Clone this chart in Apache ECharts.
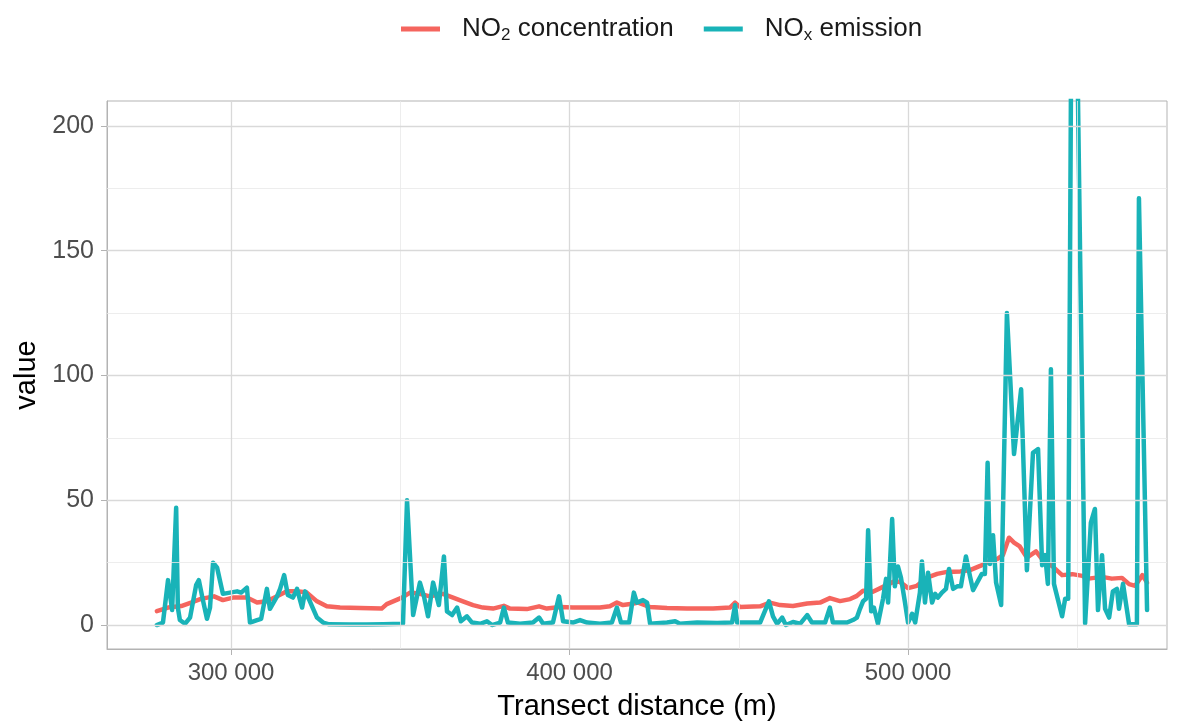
<!DOCTYPE html>
<html>
<head>
<meta charset="utf-8">
<script src="https://cdn.jsdelivr.net/npm/echarts@6/dist/echarts.min.js"></script>
<style>
  html, body { margin: 0; padding: 0; background: #ffffff; }
  #chart { width: 1184px; height: 726px; }
</style>
</head>
<body>
<div id="chart"></div>
<script>
// NO2 concentration along the transect (distance in m)
const no2Distance = [278100, 281400, 285300, 288200, 291100, 295000, 297600, 300600, 304700, 307700,
  310600, 313600, 316500, 319500, 322400, 325400, 328300, 332200, 338100, 344500,
  346000, 350500, 352900, 355800, 358800, 362600, 365600, 368500, 371500, 374400,
  377400, 380600, 382400, 387400, 391000, 393300, 397200, 401000, 409000, 411900,
  414000, 415800, 418500, 420300, 423800, 428800, 434700, 442400, 447400, 448900,
  450400, 456300, 459200, 462200, 466000, 470200, 474000, 476900, 479900, 482900,
  484900, 486700, 489600, 492600, 495600, 497600, 500000, 502600, 505600, 508600,
  511500, 515400, 518300, 521300, 524200, 526300, 528000, 529800, 531300, 533000,
  535100, 537800, 540400, 542500, 545500, 548500, 551500, 553300, 557300, 560200,
  563200, 565300, 567100, 569200, 570600];
const no2Values = [5.6, 7, 7.6, 9, 10.5, 11.5, 10, 11, 11, 9,
  9.5, 11.5, 13.5, 13.5, 13, 9.5, 7.5, 7, 6.8, 6.6,
  8.4, 11, 13, 12.5, 11.5, 12.5, 11, 9.5, 8, 7,
  6.6, 7.7, 6.6, 6.4, 7.5, 6.6, 7.2, 7, 7, 7.5,
  9, 8, 8.5, 9, 7.2, 6.8, 6.6, 6.6, 7, 9,
  7.2, 7.5, 9, 8, 7.6, 8.6, 9, 10.8, 9.6, 10.4,
  11.7, 13.7, 13.3, 15.3, 17.3, 17.3, 14.8, 15.7, 19, 20.5,
  21.3, 21.5, 22, 23.7, 25.7, 26.4, 28, 35, 33, 31.5,
  27, 29.5, 25, 23.7, 20, 20.4, 19.7, 18.6, 19.3, 18.6,
  18.9, 16.4, 15.7, 20, 17];

// NOx emission along the same transect
const noxDistance = [278100, 279900, 281400, 282600, 283800, 284300, 284900, 286400, 287900, 289700,
  290500, 291700, 292900, 293800, 294700, 295900, 297600, 299700, 301800, 303000,
  304700, 305600, 307700, 308900, 310600, 311500, 313600, 314500, 315700, 316800,
  318300, 319500, 321000, 321900, 323300, 325400, 327200, 329000, 335000, 340000,
  345000, 350800, 352000, 353800, 355800, 357000, 358200, 359700, 361400, 362900,
  363800, 365300, 366800, 367900, 369700, 371200, 373600, 375600, 377100, 379500,
  380600, 381800, 385400, 389200, 391000, 392200, 395100, 396900, 398100, 401000,
  403100, 405200, 409000, 412500, 414000, 415200, 417600, 419000, 419900, 421700,
  422900, 423800, 428800, 431200, 432600, 437700, 443600, 448000, 448900, 449500,
  452400, 456300, 458900, 460100, 461300, 462800, 463900, 466000, 468100, 470200,
  471600, 475500, 476900, 477800, 479900, 482000, 483700, 484900, 485800, 486700,
  487600, 488200, 489100, 489900, 491100, 492600, 493500, 494100, 495300, 496100,
  497000, 497900, 499100, 500000, 501200, 502100, 503500, 504100, 505000, 505900,
  507100, 508000, 508800, 510000, 511200, 512100, 513300, 514500, 515600, 517100,
  518300, 519200, 520400, 521800, 522700, 523500, 524200, 525100, 526000, 527500,
  529200, 531300, 533400, 535100, 536900, 538400, 539600, 540500, 541300, 542200,
  543100, 545500, 546400, 547300, 548700, 552300, 554000, 555200, 556100, 557300,
  558200, 559400, 560500, 561700, 562300, 563500, 565300, 567600, 568200, 570600];
const noxValues = [0, 1, 18, 6, 47, 7, 2, 0.5, 3, 16,
  18, 10, 2.5, 7, 25, 23, 12.5, 13, 13.5, 13,
  15, 1, 2, 2.5, 14.5, 6.5, 11.5, 14.5, 20, 12,
  11, 14.5, 7, 13.5, 9.5, 3, 1, 0.3, 0.2, 0.2,
  0.3, 0.5, 50, 4, 17, 11.5, 3.5, 17, 8, 27.5,
  5.5, 4, 7, 1.5, 3.5, 1, 0.5, 1.5, 0, 1,
  7, 1, 0.5, 1, 3, 0.5, 1, 11.5, 1.5, 1,
  2, 1, 0.5, 1, 7, 1, 1, 13, 9, 10,
  9, 0.5, 1, 1.5, 0.5, 1, 0.8, 1, 8, 1,
  1, 1, 9.5, 3.5, 0.5, 3, 0, 1.2, 0.5, 4,
  1, 1, 7, 1, 1, 1, 2, 3, 6.5, 9.5,
  10.5, 38, 5.5, 7, 0.5, 10.5, 18.5, 9, 42.5, 15.5,
  23.5, 19, 9, 1, 4.5, 1, 13, 25.5, 9, 21,
  9, 12.5, 11, 13, 14.5, 22.5, 14.5, 15.5, 15.5, 27.5,
  19.5, 14, 17, 20.5, 20.5, 65, 24.5, 36, 17, 8,
  125, 68.5, 94.5, 22, 69, 70.5, 24, 28, 16.5, 102.5,
  16.5, 3.5, 10.5, 10.5, 360, 0.7, 41, 46.5, 6, 28,
  6.5, 3, 13.5, 14.5, 6.5, 16.5, 0.3, 0.3, 171, 6];

// Axis breaks and reference lines
const xTicks = [300000, 400000, 500000];
const xMinor = [350000, 450000, 550000];
const yTicks = [0, 50, 100, 150, 200];
const yMinor = [25, 75, 125, 175];

const zip = (xs, ys) => xs.map((x, i) => [x, ys[i]]);
const FONT = '"Liberation Sans", Arial, Helvetica, sans-serif';
const RED = '#F5655E';
const TEAL = '#19B3B8';

const gridLines = [
  ...xMinor.map(v => ({ xAxis: v, lineStyle: { color: '#E8E8E8', width: 0.8, type: 'solid' } })),
  ...yMinor.map(v => ({ yAxis: v, lineStyle: { color: '#E8E8E8', width: 0.8, type: 'solid' } })),
  ...xTicks.map(v => ({ xAxis: v, lineStyle: { color: '#D9D9D9', width: 1.3, type: 'solid' } })),
  ...yTicks.map(v => ({ yAxis: v, lineStyle: { color: '#D9D9D9', width: 1.3, type: 'solid' } }))
];

const chart = echarts.init(document.getElementById('chart'), null, { renderer: 'canvas' });

const legendRich = {
  g: { width: 17 },
  t: { fontSize: 26, fontFamily: FONT, color: '#1A1A1A', lineHeight: 30 },
  s: { fontSize: 17, fontFamily: FONT, color: '#1A1A1A', lineHeight: 17, verticalAlign: 'bottom' }
};

chart.setOption({
  animation: false,
  backgroundColor: '#ffffff',
  grid: {
    left: 107, right: 17, top: 101, bottom: 76,
    show: true, borderColor: '#B3B3B3', borderWidth: 1, backgroundColor: 'transparent'
  },
  legend: {
    data: ['NO2 concentration', 'NOx emission'],
    left: 396, top: 11,
    itemWidth: 39, itemHeight: 5, itemGap: 30,
    icon: 'rect',
    formatter: name => name === 'NO2 concentration'
      ? '{g|}{t|NO}{s|2}{t| concentration}'
      : '{g|}{t|NO}{s|x}{t| emission}',
    textStyle: { rich: legendRich, fontSize: 26, fontFamily: FONT }
  },
  xAxis: {
    type: 'value',
    min: 263370, max: 576490,
    name: 'Transect distance (m)',
    nameLocation: 'middle', nameGap: 43,
    nameTextStyle: { fontSize: 29, fontFamily: FONT, color: '#000000' },
    axisLine: { show: true, onZero: false, lineStyle: { color: '#B3B3B3', width: 1 } },
    axisTick: { show: true, length: 6, customValues: xTicks, lineStyle: { color: '#B3B3B3', width: 1 } },
    axisLabel: {
      customValues: xTicks, margin: 12,
      fontSize: 24, fontFamily: FONT, color: '#4D4D4D',
      formatter: v => String(Math.round(v)).replace(/\B(?=(\d{3})+(?!\d))/g, ' ')
    },
    splitLine: { show: false }
  },
  yAxis: {
    type: 'value',
    min: -9.6, max: 210,
    name: 'value',
    nameLocation: 'middle', nameGap: 64, nameRotate: 90,
    nameTextStyle: { fontSize: 29, fontFamily: FONT, color: '#000000' },
    axisLine: { show: true, onZero: false, lineStyle: { color: '#B3B3B3', width: 1 } },
    axisTick: { show: true, length: 6, customValues: yTicks, lineStyle: { color: '#B3B3B3', width: 1 } },
    axisLabel: { customValues: yTicks, margin: 13, fontSize: 25, fontFamily: FONT, color: '#4D4D4D' },
    splitLine: { show: false }
  },
  series: [
    {
      name: 'grid lines',
      type: 'line',
      data: [],
      z: 1,
      silent: true,
      markLine: { silent: true, symbol: 'none', label: { show: false }, animation: false, data: gridLines }
    },
    {
      name: 'NO2 concentration',
      type: 'line',
      data: zip(no2Distance, no2Values),
      showSymbol: false,
      z: 3,
      color: RED,
      lineStyle: { color: RED, width: 4.5, join: 'round', cap: 'round' }
    },
    {
      name: 'NOx emission',
      type: 'line',
      data: zip(noxDistance, noxValues),
      showSymbol: false,
      z: 4,
      color: TEAL,
      lineStyle: { color: TEAL, width: 4.5, join: 'round', cap: 'round' }
    }
  ]
});
</script>
</body>
</html>
